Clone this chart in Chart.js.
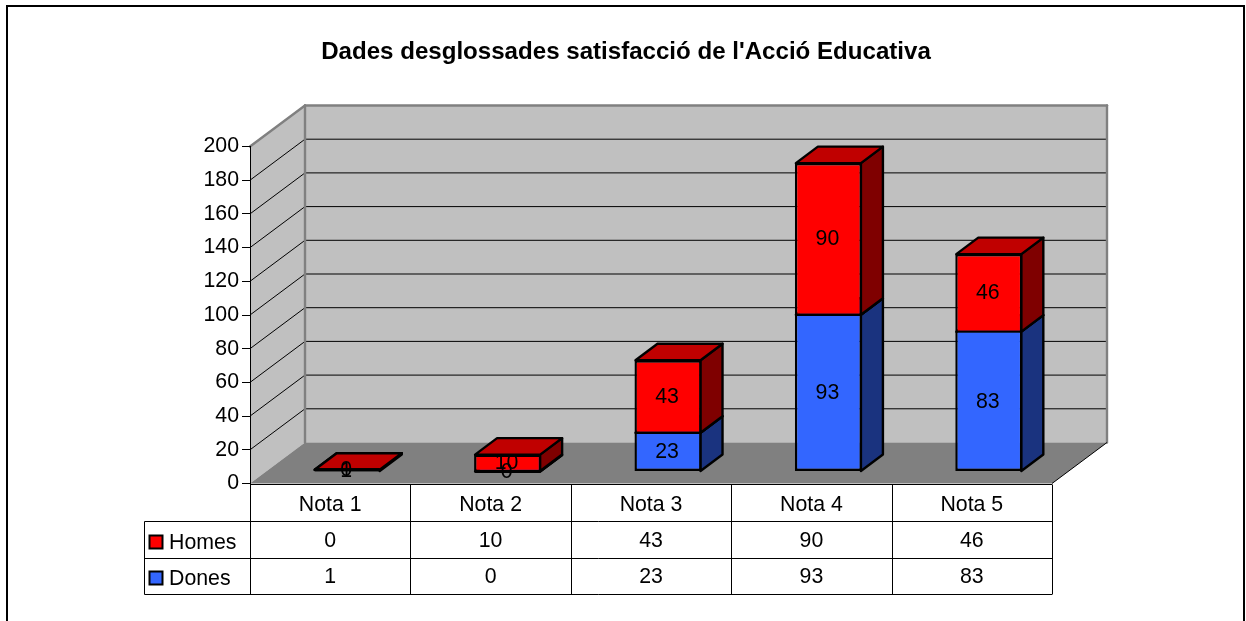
<!DOCTYPE html>
<html lang="ca">
<head>
<meta charset="utf-8">
<title>Dades desglossades</title>
<style>html,body{margin:0;padding:0;background:#fff}canvas{display:block}</style>
<script src="https://cdn.jsdelivr.net/npm/chart.js@4"></script>
</head>
<body>
<canvas id="c" width="1246" height="621"></canvas>
<script>
const categories = ["Nota 1", "Nota 2", "Nota 3", "Nota 4", "Nota 5"];
const homes = [0, 10, 43, 90, 46];
const dones = [1, 0, 23, 93, 83];
const chartTitle = "Dades desglossades satisfacció de l'Acció Educativa";

const FONT = '"Liberation Sans", Arial, sans-serif';
const TEXT_SIZE = 21.3;
const WALL = {dx: 55, dy: 41};
const BAR_OFF = {dx: 17, dy: 12};
const BAR_DEPTH = {dx: 22, dy: 16.5};
const LOOK = {
  Homes: {front: '#ff0000', top: '#c00000', side: '#7f0000'},
  Dones: {front: '#3366ff', top: '#264dbf', side: '#1a337f'}
};

function poly(ctx, pts, fill, stroke, lw) {
  ctx.beginPath();
  pts.forEach((p, i) => i ? ctx.lineTo(p[0], p[1]) : ctx.moveTo(p[0], p[1]));
  ctx.closePath();
  if (fill) { ctx.fillStyle = fill; ctx.fill(); }
  if (stroke) { ctx.strokeStyle = stroke; ctx.lineWidth = lw; ctx.lineJoin = 'round'; ctx.stroke(); }
}
function line(ctx, x1, y1, x2, y2, color, lw) {
  ctx.beginPath(); ctx.moveTo(x1, y1); ctx.lineTo(x2, y2);
  ctx.strokeStyle = color; ctx.lineWidth = lw; ctx.stroke();
}

const scene = {
  id: 'scene',
  afterLayout(chart) {
    chart.titleBlock.left = 6;
    chart.titleBlock.right = 1246;
  },
  beforeDraw(chart) {
    const ctx = chart.ctx, y = chart.scales.y, x = chart.scales.x;
    const L = x.left, R = x.right, B = y.getPixelForValue(0), T = y.getPixelForValue(200);
    const dx = WALL.dx, dy = WALL.dy;
    ctx.save();
    ctx.fillStyle = '#fff'; ctx.fillRect(0, 0, chart.width, chart.height);
    ctx.beginPath(); ctx.moveTo(7, 621); ctx.lineTo(7, 6); ctx.lineTo(1244, 6); ctx.lineTo(1244, 621);
    ctx.strokeStyle = '#000'; ctx.lineWidth = 2; ctx.stroke();
    poly(ctx, [[L + dx, T - dy], [R + dx, T - dy], [R + dx, B - dy], [L + dx, B - dy]], '#c0c0c0');
    poly(ctx, [[L, T], [L + dx, T - dy], [L + dx, B - dy], [L, B]], '#c0c0c0');
    poly(ctx, [[L, B], [L + dx, B - dy], [R + dx, B - dy], [R, B]], '#808080');
    y.ticks.forEach(t => {
      const py = y.getPixelForValue(t.value);
      if (t.value > 0 && t.value < 200) {
        line(ctx, L, py, L + dx, py - dy, '#000', 1);
        line(ctx, L + dx, py - dy, R + dx, py - dy, '#000', 1);
      }
    });
    ctx.lineCap = 'round';
    line(ctx, L, T, L + dx, T - dy, '#808080', 2.4);
    line(ctx, L + dx, T - dy, R + dx, T - dy, '#808080', 2.4);
    line(ctx, R + dx, T - dy, R + dx, B - dy, '#808080', 2.4);
    line(ctx, L + dx, T - dy, L + dx, B - dy, '#808080', 2.4);
    ctx.lineCap = 'butt';
    line(ctx, R, B, R + dx, B - dy, '#000', 1);
    const band = (R - L) / categories.length;
    const rows = [521.5, 558.5, 594.5];
    const left = 144.5, top = Math.round(B) + 0.5;
    line(ctx, L, top, R, top, '#000', 1);
    rows.forEach(r => line(ctx, left, r, R, r, '#000', 1));
    line(ctx, left, rows[0], left, rows[2], '#000', 1);
    for (let i = 0; i <= categories.length; i++) {
      const vx = Math.round(L + i * band) + 0.5;
      line(ctx, vx, top, vx, rows[2], '#000', 1);
    }
    ctx.font = TEXT_SIZE + 'px ' + FONT;
    ctx.textBaseline = 'middle';
    [['Homes', homes, 541.5], ['Dones', dones, 577.5]].forEach(([name, vals, cy]) => {
      ctx.textAlign = 'left';
      ctx.fillStyle = '#000';
      ctx.fillText(name, 169, cy + 2);
      ctx.textAlign = 'center';
      vals.forEach((v, i) => ctx.fillText(String(v), x.getPixelForValue(i), cy));
      ctx.fillStyle = LOOK[name].front;
      ctx.fillRect(149.5, cy - 6, 13, 13);
      ctx.strokeStyle = '#000'; ctx.lineWidth = 2;
      ctx.strokeRect(149.5, cy - 6, 13, 13);
    });
    ctx.restore();
  },
  beforeDatasetsDraw(chart) {
    const ctx = chart.ctx;
    ctx.save();
    ctx.translate(BAR_OFF.dx, -BAR_OFF.dy);
    const d = BAR_DEPTH;
    chart.data.datasets.forEach((ds, di) => {
      const look = LOOK[ds.label];
      chart.getDatasetMeta(di).data.forEach(el => {
        const r = el.x + el.width / 2, l = el.x - el.width / 2;
        poly(ctx, [[r - 1, el.base], [r - 1 + d.dx, el.base - d.dy], [r - 1 + d.dx, el.y - d.dy], [r - 1, el.y]], look.side, '#000', 2.4);
        poly(ctx, [[l + 1, el.y], [l + 1 + d.dx, el.y - d.dy], [r - 1 + d.dx, el.y - d.dy], [r - 1, el.y]], look.top, '#000', 2.4);
      });
    });
    ctx.restore();
    ctx.save();
    ctx.translate(BAR_OFF.dx, -BAR_OFF.dy);
  },
  afterDatasetsDraw(chart) {
    const ctx = chart.ctx;
    chart.data.datasets.forEach((ds, di) => {
      chart.getDatasetMeta(di).data.forEach(el => {
        if (el.base - el.y < 3) {
          ctx.beginPath();
          ctx.moveTo(el.x - el.width / 2 + 1, el.y);
          ctx.lineTo(el.x + el.width / 2 - 1, el.y);
          ctx.strokeStyle = '#000'; ctx.lineWidth = 3; ctx.stroke();
        }
      });
    });
    ctx.fillStyle = '#000';
    ctx.font = TEXT_SIZE + 'px ' + FONT;
    ctx.textAlign = 'center';
    ctx.textBaseline = 'middle';
    chart.data.datasets.forEach((ds, di) => {
      chart.getDatasetMeta(di).data.forEach((el, i) => {
        ctx.fillText(String(ds.data[i]), el.x - 1, (el.y + el.base) / 2 + 0.5);
      });
    });
    ctx.restore();
  }
};

new Chart(document.getElementById('c'), {
  type: 'bar',
  data: {
    labels: categories,
    datasets: [
      {label: 'Dones', data: dones, backgroundColor: LOOK.Dones.front, borderColor: '#000',
       borderWidth: {top: 1.2, bottom: 2.4, left: 2.4, right: 2.4}, borderSkipped: false, clip: false},
      {label: 'Homes', data: homes, backgroundColor: LOOK.Homes.front, borderColor: '#000',
       borderWidth: {top: 2.4, bottom: 1.2, left: 2.4, right: 2.4}, borderSkipped: false, clip: false}
    ]
  },
  options: {
    responsive: false,
    devicePixelRatio: 1,
    animation: false,
    barPercentage: 0.418,
    categoryPercentage: 1,
    layout: {padding: {left: 0, right: 194, top: 0, bottom: 0}},
    plugins: {
      legend: {display: false},
      tooltip: {enabled: false},
      title: {
        display: true,
        text: chartTitle,
        color: '#000',
        font: {family: FONT, size: 24.1, weight: 'bold', lineHeight: 1.2},
        padding: {top: 38, bottom: 146.5 - 38 - 28.92}
      }
    },
    scales: {
      x: {
        stacked: true,
        afterFit(s) { s.height = 137.5; },
        grid: {display: false},
        border: {display: false},
        ticks: {color: '#000', font: {family: FONT, size: TEXT_SIZE}, padding: 1, autoSkip: false, maxRotation: 0}
      },
      y: {
        stacked: true,
        min: 0,
        max: 200,
        afterFit(s) { s.width = 250; },
        grid: {drawOnChartArea: false, drawTicks: true, tickLength: 8, tickColor: '#000', color: '#000'},
        border: {display: true, color: '#000', width: 1},
        ticks: {stepSize: 20, color: '#000', font: {family: FONT, size: TEXT_SIZE}, padding: 3}
      }
    }
  },
  plugins: [scene]
});
</script>
</body>
</html>
